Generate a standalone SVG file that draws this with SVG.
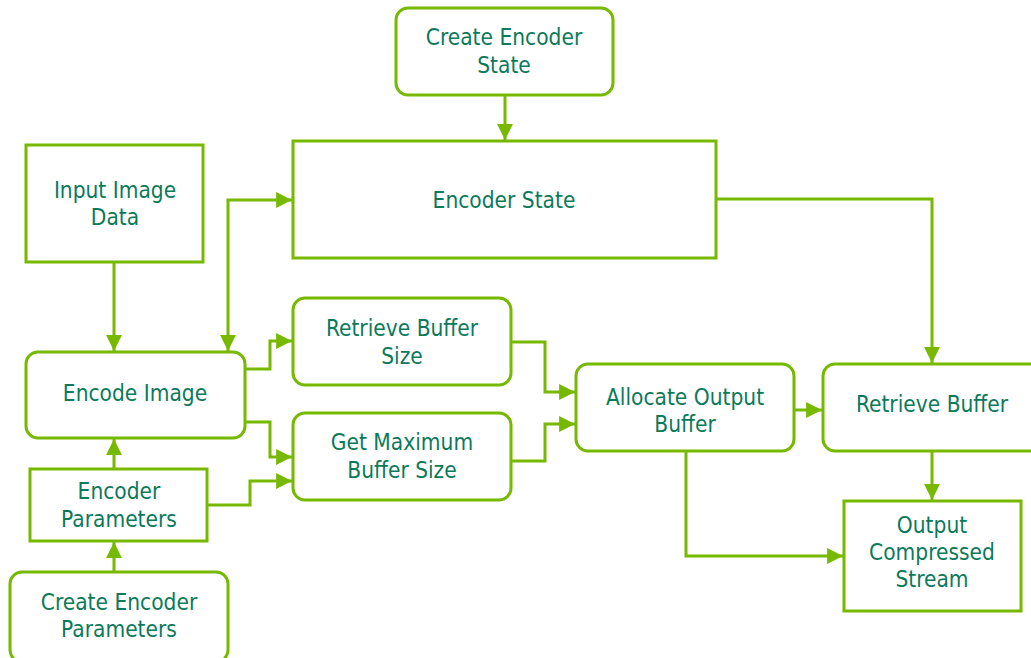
<svg xmlns="http://www.w3.org/2000/svg" width="1031" height="658" viewBox="0 0 1031 658">
<defs>
<marker id="ah" viewBox="0 0 10 10" refX="10" refY="5" markerWidth="5.3" markerHeight="5.3" orient="auto-start-reverse" markerUnits="strokeWidth">
<path d="M0,0 L10,5 L0,10 z" fill="#76b900"/>
</marker>
<style>
.box{fill:#ffffff;stroke:#76b900;stroke-width:3}
.t{font-family:"DejaVu Sans Condensed","DejaVu Sans",sans-serif;font-stretch:condensed;font-size:22.5px;fill:#0b7a5a;text-anchor:middle}
.c{fill:none;stroke:#76b900;stroke-width:3;marker-end:url(#ah)}
</style>
</defs>
<rect width="1031" height="658" fill="#ffffff"/>
<g id="connectors">
<path class="c" d="M505,95 V140"/>
<path class="c" d="M716,199 H932 V363"/>
<path class="c" d="M114,262 V351"/>
<path class="c" d="M228,351 V200 H292" style="marker-start:url(#ah)"/>
<path class="c" d="M245,369 H270 V341 H292"/>
<path class="c" d="M245,422 H270 V457 H292"/>
<path class="c" d="M207,505 H250 V481 H292"/>
<path class="c" d="M114,469 V439"/>
<path class="c" d="M114,572 V542"/>
<path class="c" d="M511,342 H545 V392 H575"/>
<path class="c" d="M511,461 H545 V424 H575"/>
<path class="c" d="M794,410 H822"/>
<path class="c" d="M932,451 V500"/>
<path class="c" d="M686,451 V556 H843"/>
</g>
<g id="create-encoder-state"><rect class="box" x="396" y="8" width="217" height="87" rx="12"/><text class="t" x="504" y="45">Create Encoder</text><text class="t" x="504" y="73">State</text></g>
<g id="encoder-state"><rect class="box" x="293" y="141" width="423" height="117"/><text class="t" x="504" y="208">Encoder State</text></g>
<g id="input-image-data"><rect class="box" x="26" y="145" width="177" height="117"/><text class="t" x="115" y="198">Input Image</text><text class="t" x="115" y="225">Data</text></g>
<g id="encode-image"><rect class="box" x="26" y="352" width="219" height="86" rx="12"/><text class="t" x="135" y="401">Encode Image</text></g>
<g id="encoder-parameters"><rect class="box" x="30" y="469" width="177" height="72"/><text class="t" x="119" y="499">Encoder</text><text class="t" x="119" y="527">Parameters</text></g>
<g id="create-encoder-parameters"><rect class="box" x="10" y="572" width="218" height="90" rx="12"/><text class="t" x="119" y="610">Create Encoder</text><text class="t" x="119" y="637">Parameters</text></g>
<g id="retrieve-buffer-size"><rect class="box" x="293" y="298" width="218" height="87" rx="12"/><text class="t" x="402" y="336">Retrieve Buffer</text><text class="t" x="402" y="364">Size</text></g>
<g id="get-maximum-buffer-size"><rect class="box" x="293" y="413" width="218" height="87" rx="12"/><text class="t" x="402" y="450">Get Maximum</text><text class="t" x="402" y="478">Buffer Size</text></g>
<g id="allocate-output-buffer"><rect class="box" x="576" y="364" width="218" height="87" rx="12"/><text class="t" x="685" y="405">Allocate Output</text><text class="t" x="685" y="432">Buffer</text></g>
<g id="retrieve-buffer"><rect class="box" x="823" y="364" width="220" height="87" rx="12"/><text class="t" x="932" y="412">Retrieve Buffer</text></g>
<g id="output-compressed-stream"><rect class="box" x="844" y="501" width="177" height="110"/><text class="t" x="932" y="533">Output</text><text class="t" x="932" y="560">Compressed</text><text class="t" x="932" y="587">Stream</text></g>
</svg>
